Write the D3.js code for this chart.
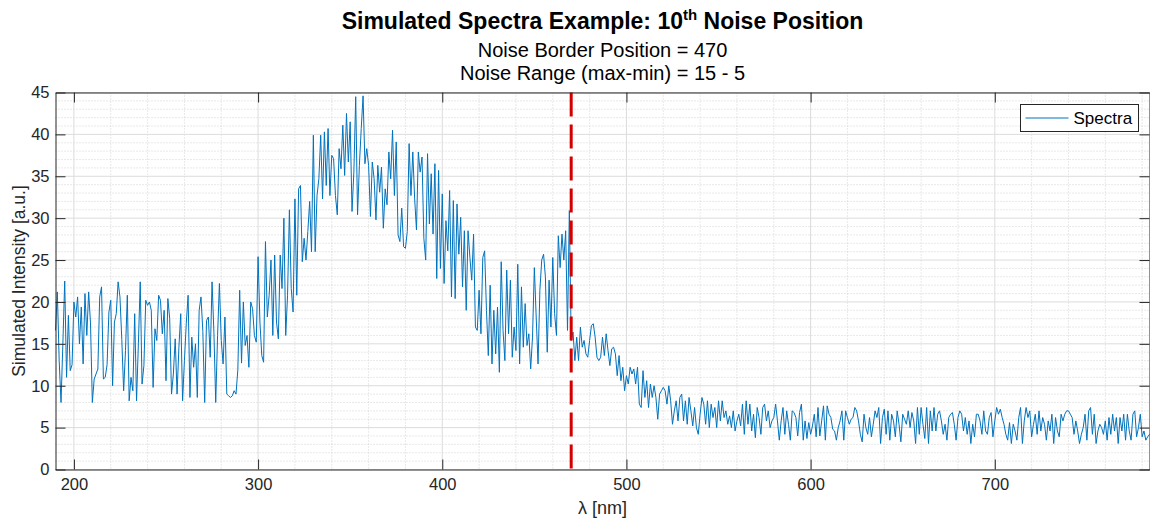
<!DOCTYPE html>
<html>
<head>
<meta charset="utf-8">
<title>Simulated Spectra</title>
<script src="https://d3js.org/d3.v7.min.js"></script>
<style>
    body { margin: 0; background: #fff; }
    text { font-family: "Liberation Sans", Arial, Helvetica, sans-serif; }
</style>
</head>
<body>
<svg width="1150" height="521" id="mainSvg"></svg>
<script>
// wavelength grid (1 nm step) and the simulated intensity
const lambdaStart = 190, lambdaEnd = 784;
const intensity = [
    16.6, 21.2, 13, 8, 15, 22.5, 11, 18.4, 11.8, 12.5,
    20, 18.2, 20.6, 15, 19.4, 12.6, 21, 16, 21.2, 17.5,
    8, 10.8, 11.4, 12, 20.6, 21.8, 10.8, 11, 12.5, 18.8,
    20.2, 10, 17.6, 18.6, 22.4, 20.6, 15.5, 9.4, 14.2, 20.8,
    8.2, 11, 9.4, 18.6, 8.2, 15, 22.4, 10.2, 12.4, 20.2,
    19.6, 20, 19, 9.8, 16.8, 15.4, 20.8, 20.2, 16.2, 19,
    10.6, 20.4, 18, 9, 11.4, 15.6, 9, 14.6, 18.6, 8.2,
    13, 17.4, 20.8, 8.6, 15.8, 12.2, 15, 8.6, 19, 20.6,
    16.5, 8, 17.8, 18.2, 13.4, 22.4, 16.4, 8, 16, 22.2,
    15.4, 12.6, 18.2, 9, 8.8, 8.6, 8.8, 9.4, 9, 11.9,
    21.4, 12.7, 20, 14.8, 16, 12.2, 20, 19.2, 16, 15.2,
    25.4, 17.6, 13.6, 12.8, 27.2, 18.2, 20.8, 25, 16, 25.6,
    17.6, 15.6, 25.6, 21.6, 30, 16, 20.8, 31, 21.6, 18.8,
    32.3, 20.8, 33.5, 33.9, 24.8, 27.6, 25, 28.4, 32, 26,
    39.9, 26, 32.7, 34.7, 39.9, 32.3, 40.3, 33.9, 40.7, 32.7,
    37.5, 37.1, 32.7, 30.4, 38.3, 35.9, 41.1, 35.1, 42.5, 36.7,
    41.5, 30.8, 35.5, 44.5, 30.4, 36.3, 40.7, 44.6, 36.5, 38.3,
    36.3, 30.2, 36.7, 34.7, 29.8, 36.3, 33.1, 36.1, 28.8, 33.5,
    31.6, 37.9, 34.7, 40.5, 32.7, 39.1, 28, 27.2, 31.2, 26.6,
    26.4, 28.4, 38.9, 32.7, 37.9, 32.3, 28.6, 37.9, 35.5, 37.3,
    27.6, 25, 37.7, 29.3, 35.3, 28.1, 36.5, 22.8, 35.7, 24,
    32.9, 22.2, 29.7, 26.1, 33.3, 20.6, 32.1, 20.4, 31.7, 25.7,
    30.1, 21.8, 28.5, 19, 28.5, 25.3, 22.6, 28.1, 17, 16.6,
    21.4, 16.2, 25.3, 26.1, 19, 13.6, 22, 12.6, 19, 13.8,
    19.4, 11.6, 24.8, 16.6, 13, 23.8, 16.2, 22.6, 13.4, 17,
    14.2, 24.5, 12.6, 21.8, 14.6, 19.8, 14.8, 16.2, 12, 15.8,
    24.1, 18.2, 12.6, 21.4, 25, 25.7, 23, 14, 22.6, 17,
    25.3, 18.6, 16, 27.9, 24.1, 28.1, 25, 28.5, 16.6, 30.9,
    15.4, 16.4, 13, 15.8, 13, 17, 14.6, 15.4, 13.8, 13.4,
    15.4, 17.2, 17.4, 15.8, 13.4, 13, 13.4, 15.8, 13.6, 16.2,
    14.2, 12.4, 14.4, 14.6, 13.8, 11.2, 13.6, 10.6, 12.2, 9.4,
    11.2, 10.2, 12.2, 11.4, 12, 10.2, 12.2, 7.8, 7.4, 11.8,
    8.6, 10.6, 7.4, 10.2, 8.6, 10, 8.6, 6, 9, 9.4,
    9.8, 9.4, 7.8, 10, 8.2, 5.4, 7, 8.2, 5.8, 8.6,
    9, 5.8, 8.2, 5.4, 8.6, 7, 5.2, 7.4, 5, 4.2,
    6.6, 8.6, 7.8, 5.4, 8.2, 5, 7.8, 6.2, 7.4, 5,
    8.2, 5.8, 8.2, 6.2, 7, 5.4, 6.4, 5, 7, 4.6,
    5.8, 6.6, 5.2, 7.8, 4.2, 8.2, 5.4, 7.8, 4.6, 6.6,
    3.8, 7.4, 6.2, 4.2, 7.4, 7.8, 5.8, 7, 5, 5.8,
    6.2, 7.8, 5.8, 3.5, 5.8, 7.4, 4.2, 7, 5.4, 3.5,
    7, 6.8, 6.2, 4, 6.8, 7.8, 3.5, 5.8, 3.7, 5.6,
    4.2, 5.2, 6.6, 3.9, 7.4, 4, 5.8, 7.6, 3.5, 7.6,
    6.6, 6.2, 4.8, 4.6, 3.5, 5, 5.8, 7, 3.5, 7,
    6.2, 5.4, 6, 6.2, 7.4, 7, 5.8, 4.2, 3.3, 6.6,
    5, 4.2, 6.2, 3.9, 5.4, 7, 6.2, 7.4, 3.1, 6.2,
    7.2, 4.2, 7, 3.5, 6.6, 5.8, 3.9, 7, 5.4, 3.3,
    6.6, 6, 5.4, 7, 5, 6.8, 5.8, 3.1, 7.4, 4.2,
    7.4, 5.4, 3.7, 7.4, 3.1, 7, 4.6, 7.4, 4.6, 6.6,
    7, 5.8, 4.2, 5.4, 3.5, 6.2, 6.6, 6.8, 5.4, 3.5,
    6.2, 7, 6.6, 4.6, 6.2, 4.2, 5.8, 3.1, 5.4, 3.9,
    6.6, 6.6, 5.8, 4.2, 7, 4.6, 4.2, 6.2, 6.8, 3.9,
    5.8, 7.4, 6.6, 7.2, 6.2, 5.4, 4.2, 3.5, 5.6, 3.1,
    5.4, 4.6, 3.5, 6.2, 7.4, 3.1, 5.8, 7.4, 6.2, 7,
    3.9, 5.4, 6.6, 4.2, 7, 4.6, 6.2, 5.4, 3.5, 5.8,
    4.6, 6.6, 3.1, 6.2, 4.6, 3.9, 6.6, 5.8, 6.6, 7,
    7, 6.6, 6.2, 4.2, 5.8, 4.6, 3.1, 4.2, 5, 6.6,
    3.5, 7, 7.4, 4.2, 6.6, 3.1, 4.6, 5.4, 5, 4.2,
    5.8, 3.5, 6.2, 4.2, 6.6, 4.6, 6.2, 3.1, 6.2, 4.6,
    6.6, 3.5, 6.6, 4.6, 3.5, 6.6, 7, 3.9, 5, 6.6,
    3.9, 4.6, 3.5, 3.9, 4.2
];
const xTicks = [200, 300, 400, 500, 600, 700];
const yTicks = [0, 5, 10, 15, 20, 25, 30, 35, 40, 45];
const noiseBorder = 470;
const seriesName = "Spectra";

let mainSvg = d3.select('#mainSvg')
const mainWidth = +mainSvg.attr("width");
const mainHeight = +mainSvg.attr("height");
const margin = { top: 92.5, right: 0.5, bottom: 51.5, left: 55.5 };
const innerWidth = mainWidth - margin.left - margin.right;
const innerHeight = mainHeight - margin.bottom - margin.top;
const axisColor = "#262626";

const data = intensity.map((v, i) => ({ x: lambdaStart + i, y: v }));

const xScale = d3.scaleLinear().domain([lambdaStart, lambdaEnd]).range([0, innerWidth]);
const yScale = d3.scaleLinear().domain([0, 45]).range([innerHeight, 0]);

mainSvg.append("rect").attr("width", mainWidth).attr("height", mainHeight).attr("fill", "#fff");

const g = mainSvg.append("g")
    .attr("transform", `translate(${margin.left}, ${margin.top})`);

// minor grid (dotted)
const minorX = d3.range(200, lambdaEnd, 20).filter(d => d % 100 != 0);
const minorY = d3.range(1, 45, 1).filter(d => d % 5 != 0);
g.append("g").selectAll("line").data(minorX).join("line")
    .attr("x1", d => xScale(d)).attr("x2", d => xScale(d))
    .attr("y1", 0).attr("y2", innerHeight)
    .attr("stroke", "#c8c8c8").attr("stroke-width", 0.8).attr("stroke-dasharray", "1,2");
g.append("g").selectAll("line").data(minorY).join("line")
    .attr("y1", d => yScale(d)).attr("y2", d => yScale(d))
    .attr("x1", 0).attr("x2", innerWidth)
    .attr("stroke", "#c8c8c8").attr("stroke-width", 0.8).attr("stroke-dasharray", "1,2");

// major grid
g.append("g").selectAll("line").data(xTicks).join("line")
    .attr("x1", d => xScale(d)).attr("x2", d => xScale(d))
    .attr("y1", 0).attr("y2", innerHeight)
    .attr("stroke", "#dcdcdc").attr("stroke-width", 1);
g.append("g").selectAll("line").data(yTicks).join("line")
    .attr("y1", d => yScale(d)).attr("y2", d => yScale(d))
    .attr("x1", 0).attr("x2", innerWidth)
    .attr("stroke", "#dcdcdc").attr("stroke-width", 1);

// spectrum
const line = d3.line().x(d => xScale(d.x)).y(d => yScale(d.y));
g.append("path").datum(data)
    .attr("fill", "none")
    .attr("stroke", "#0072BD")
    .attr("stroke-width", 1)
    .attr("stroke-linejoin", "round")
    .attr("d", line);

// noise border marker
g.append("line")
    .attr("x1", xScale(noiseBorder)).attr("x2", xScale(noiseBorder))
    .attr("y1", yScale(45)).attr("y2", yScale(0))
    .attr("stroke", "#d40000").attr("stroke-width", 3)
    .attr("stroke-dasharray", "24,8");

// axes, ticks inside on all four sides
function styleAxis(sel) {
    sel.select(".domain").attr("stroke", axisColor).attr("stroke-width", 1);
    sel.selectAll(".tick line").attr("stroke", axisColor).attr("stroke-width", 1);
    sel.selectAll(".tick text").attr("fill", axisColor).attr("font-size", 16.5)
        .attr("font-family", '"Liberation Sans", Arial, sans-serif');
}
g.append("g").attr("transform", `translate(0, ${innerHeight})`)
    .call(d3.axisBottom(xScale).tickValues(xTicks).tickSize(-10).tickSizeOuter(0).tickPadding(9))
    .call(styleAxis);
g.append("g")
    .call(d3.axisTop(xScale).tickValues(xTicks).tickSize(-10).tickSizeOuter(0))
    .call(styleAxis)
    .selectAll(".tick text").remove();
g.append("g")
    .call(d3.axisLeft(yScale).tickValues(yTicks).tickSize(-10).tickSizeOuter(0).tickPadding(6))
    .call(styleAxis);
g.append("g").attr("transform", `translate(${innerWidth}, 0)`)
    .call(d3.axisRight(yScale).tickValues(yTicks).tickSize(-10).tickSizeOuter(0))
    .call(styleAxis)
    .selectAll(".tick text").remove();

// legend
const legend = g.append("g").attr("transform", `translate(${innerWidth - 129}, 12)`);
legend.append("rect").attr("width", 118).attr("height", 27)
    .attr("fill", "#fff").attr("stroke", axisColor).attr("stroke-width", 1);
legend.append("line").attr("x1", 5).attr("x2", 48).attr("y1", 13.5).attr("y2", 13.5)
    .attr("stroke", "#0072BD").attr("stroke-width", 1);
legend.append("text").attr("x", 53).attr("y", 19.5)
    .attr("font-size", 17).attr("fill", "#000").text(seriesName);

// axis labels
const cx = margin.left + innerWidth / 2;
mainSvg.append("text").attr("x", cx).attr("y", 514)
    .attr("text-anchor", "middle").attr("font-size", 18).attr("fill", axisColor)
    .text("λ [nm]");
mainSvg.append("text")
    .attr("transform", `translate(25, ${margin.top + innerHeight / 2}) rotate(-90)`)
    .attr("text-anchor", "middle").attr("font-size", 17.5).attr("fill", axisColor)
    .text("Simulated Intensity [a.u.]");

// titles
const title = mainSvg.append("text").attr("x", cx).attr("y", 29)
    .attr("text-anchor", "middle").attr("font-size", 23).attr("font-weight", "bold").attr("fill", "#000");
title.append("tspan").text("Simulated Spectra Example: 10");
title.append("tspan").attr("dy", -9).attr("font-size", 15).text("th");
title.append("tspan").attr("dy", 9).text(" Noise Position");
mainSvg.append("text").attr("x", cx).attr("y", 57)
    .attr("text-anchor", "middle").attr("font-size", 20).attr("fill", "#000")
    .text("Noise Border Position = " + noiseBorder);
mainSvg.append("text").attr("x", cx).attr("y", 80)
    .attr("text-anchor", "middle").attr("font-size", 20).attr("fill", "#000")
    .text("Noise Range (max-min) = 15 - 5");
</script>
</body>
</html>
